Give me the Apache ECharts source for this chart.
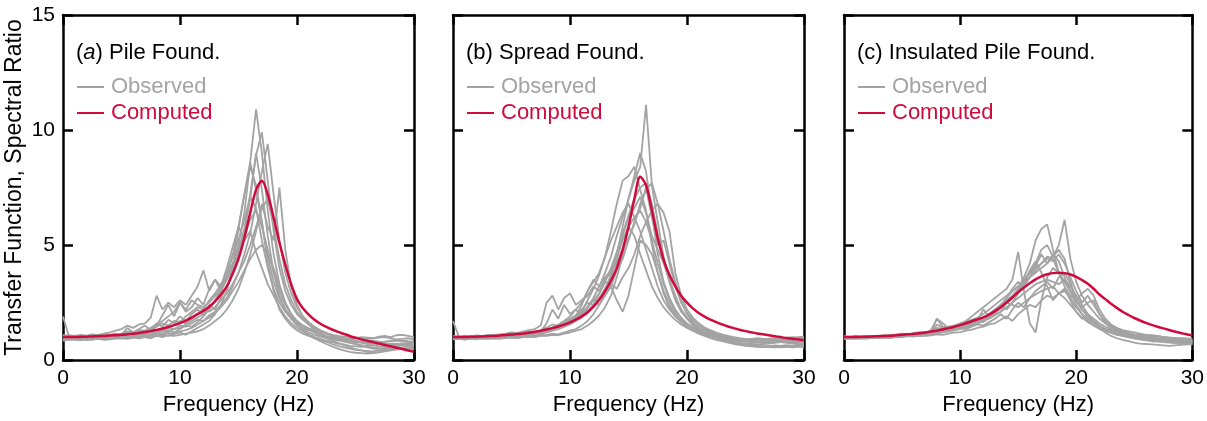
<!DOCTYPE html>
<html>
<head>
<meta charset="utf-8">
<title>Transfer function vs spectral ratio</title>
<script src="https://cdn.jsdelivr.net/npm/echarts@6/dist/echarts.min.js"></script>
<style>
    html, body { margin: 0; padding: 0; background: #fff; }
    #chart { width: 1207px; height: 421px; }
</style>
</head>
<body>
<div id="chart"></div>
<script type="text/javascript">
// frequency grid (Hz), 0.5 Hz step
var freq = [
    0,0.5,1,1.5,2,2.5,3,3.5,4,4.5,
    5,5.5,6,6.5,7,7.5,8,8.5,9,9.5,
    10,10.5,11,11.5,12,12.5,13,13.5,14,14.5,
    15,15.5,16,16.5,17,17.5,18,18.5,19,19.5,
    20,20.5,21,21.5,22,22.5,23,23.5,24,24.5,
    25,25.5,26,26.5,27,27.5,28,28.5,29,29.5,
    30
];

var panelTitles = ['(a) Pile Found.', '(b) Spread Found.', '(c) Insulated Pile Found.'];
var xTicks = [0, 10, 20, 30];
var yTicks = [0, 5, 10, 15];

// computed transfer functions
var compA = [
    1.00,1.00,1.00,1.01,1.02,1.03,1.04,1.05,1.07,1.08,
    1.10,1.12,1.15,1.18,1.22,1.26,1.31,1.37,1.44,1.52,
    1.61,1.72,1.85,2.00,2.14,2.32,2.55,2.85,3.20,3.75,
    4.40,5.30,6.40,7.40,7.80,7.20,6.20,5.10,4.15,3.30,
    2.65,2.25,1.98,1.75,1.58,1.44,1.33,1.23,1.14,1.05,
    0.97,0.90,0.84,0.78,0.72,0.66,0.60,0.54,0.48,0.42,
    0.36
];
var compB = [
    1.00,1.00,1.00,1.01,1.02,1.03,1.04,1.05,1.07,1.09,
    1.11,1.13,1.16,1.19,1.23,1.28,1.33,1.39,1.46,1.54,
    1.64,1.76,1.90,2.08,2.32,2.62,3.00,3.45,4.00,4.80,
    5.80,7.00,7.97,7.60,6.50,5.30,4.37,3.70,3.20,2.80,
    2.50,2.25,2.05,1.89,1.76,1.65,1.55,1.46,1.39,1.32,
    1.26,1.21,1.16,1.12,1.08,1.04,1.00,0.96,0.93,0.90,
    0.86
];
var compC = [
    1.00,1.00,1.00,1.01,1.02,1.03,1.04,1.05,1.06,1.08,
    1.10,1.12,1.14,1.17,1.20,1.24,1.28,1.33,1.39,1.45,
    1.52,1.60,1.69,1.77,1.86,1.98,2.13,2.30,2.50,2.72,
    2.95,3.15,3.34,3.51,3.64,3.73,3.78,3.80,3.78,3.72,
    3.62,3.48,3.32,3.10,2.85,2.65,2.45,2.27,2.10,1.96,
    1.83,1.72,1.62,1.53,1.45,1.38,1.31,1.24,1.18,1.12,
    1.07
];

// observed spectral ratios, panel (a)
var obsA = [
    [1.00,0.98,0.97,0.99,1.00,0.98,1.02,1.05,1.10,1.15,
     1.12,1.20,1.18,1.25,1.22,1.30,1.45,1.60,1.50,1.70,
     1.65,1.90,2.10,2.30,2.20,2.60,2.90,3.30,3.70,4.20,
     5.00,6.40,8.60,10.90,9.00,6.50,4.60,3.30,2.50,2.00,
     1.70,1.50,1.35,1.20,1.10,1.00,0.95,0.90,0.88,0.85,
     0.80,0.78,0.75,0.80,0.78,0.72,0.70,0.68,0.70,0.65,
     0.62],
    [1.90,1.05,0.95,0.92,0.90,0.93,0.95,0.92,0.98,1.00,
     1.05,1.02,1.10,1.08,1.05,1.10,1.20,1.15,1.25,1.35,
     1.40,1.55,1.70,1.85,2.00,2.30,2.60,3.00,3.50,4.10,
     4.80,5.70,7.20,8.90,9.90,7.80,5.60,4.00,3.00,2.40,
     2.00,1.75,1.55,1.40,1.25,1.15,1.05,1.00,0.95,0.92,
     0.95,1.00,0.98,0.95,1.02,1.05,1.00,1.08,1.10,1.05,
     1.00],
    [1.05,1.08,1.05,1.10,1.06,1.12,1.10,1.15,1.20,1.28,
     1.35,1.50,1.40,1.55,1.60,1.85,2.80,2.20,2.50,2.30,
     2.60,2.40,2.80,3.20,3.90,3.00,3.50,3.20,3.80,4.50,
     5.80,7.20,8.60,7.40,6.00,4.50,3.40,2.70,2.20,1.90,
     1.65,1.50,1.35,1.25,1.15,1.05,1.00,0.95,0.90,0.85,
     0.80,0.75,0.70,0.72,0.68,0.65,0.70,0.72,0.68,0.66,
     0.65],
    [0.92,0.90,0.88,0.90,0.87,0.90,0.92,0.88,0.90,0.93,
     0.95,0.92,0.98,0.95,1.00,1.02,1.05,1.00,1.08,1.05,
     1.10,1.15,1.20,1.25,1.35,1.50,1.70,1.90,2.20,2.60,
     3.10,3.80,4.60,5.60,6.80,5.80,5.20,7.50,4.80,3.20,
     2.40,1.90,1.55,1.30,1.10,0.95,0.85,0.75,0.65,0.55,
     0.48,0.42,0.35,0.32,0.35,0.40,0.45,0.50,0.55,0.60,
     0.62],
    [1.00,1.02,1.00,1.03,1.05,1.02,1.08,1.05,1.10,1.08,
     1.15,1.25,1.20,1.30,1.28,1.40,1.55,1.70,1.90,2.10,
     2.50,2.20,2.60,2.40,2.30,2.50,2.80,3.10,3.50,4.00,
     4.60,5.40,6.10,6.50,5.80,4.80,3.80,3.00,2.40,2.00,
     1.70,1.50,1.38,1.30,1.22,1.15,1.10,1.05,1.02,1.00,
     0.98,0.95,0.92,0.95,0.98,1.00,0.95,0.90,0.92,0.95,
     0.90],
    [0.95,0.92,0.93,0.90,0.92,0.95,0.93,0.96,0.95,0.98,
     1.00,0.98,1.02,1.05,1.00,0.95,1.05,1.10,1.05,1.15,
     1.20,1.10,1.25,1.40,1.55,1.70,2.00,2.40,3.00,4.00,
     5.70,7.20,8.40,7.60,6.00,4.20,3.00,2.20,1.80,1.50,
     1.30,1.15,1.05,0.95,0.85,0.80,0.70,0.62,0.55,0.50,
     0.45,0.42,0.40,0.38,0.42,0.45,0.50,0.55,0.52,0.50,
     0.48],
    [1.00,0.98,1.00,1.02,1.00,1.05,1.03,1.08,1.05,1.10,
     1.12,1.10,1.15,1.18,1.20,1.25,1.30,1.35,1.40,1.55,
     1.70,1.60,1.80,2.00,2.20,2.10,2.30,2.60,2.90,3.30,
     3.80,4.30,5.00,5.80,6.60,7.00,5.80,4.40,3.30,2.60,
     2.10,1.80,1.55,1.40,1.28,1.18,1.10,1.00,0.95,0.90,
     0.85,0.80,0.82,0.85,0.80,0.78,0.82,0.85,0.80,0.78,
     0.75],
    [1.02,1.00,0.98,0.96,0.98,1.00,0.97,1.00,1.02,1.00,
     1.05,1.08,1.05,1.10,1.15,1.12,1.20,1.25,1.30,1.20,
     1.35,1.50,1.45,1.65,1.90,2.20,2.60,3.20,4.00,4.90,
     5.80,5.20,5.60,4.70,4.00,3.30,2.80,2.30,1.90,1.60,
     1.40,1.25,1.12,1.00,0.92,0.85,0.78,0.72,0.68,0.62,
     0.60,0.58,0.62,0.65,0.60,0.58,0.62,0.65,0.68,0.70,
     0.72],
    [0.90,0.95,1.00,0.94,0.98,1.05,0.96,1.02,1.10,1.00,
     1.08,1.15,1.05,1.20,1.10,1.30,1.50,1.95,2.40,1.90,
     2.50,2.10,2.30,2.70,2.40,3.10,3.50,3.00,3.70,4.60,
     5.20,6.10,7.10,6.60,5.20,4.00,3.10,2.50,2.10,1.80,
     1.60,1.40,1.30,1.20,1.05,1.00,0.92,0.88,0.80,0.75,
     0.70,0.65,0.58,0.55,0.52,0.50,0.55,0.60,0.65,0.70,
     0.75],
    [1.00,1.04,0.98,1.06,1.00,1.08,1.02,1.10,1.05,1.12,
     1.08,1.15,1.12,1.20,1.25,1.18,1.30,1.28,1.40,1.35,
     1.50,1.45,1.60,1.75,1.70,1.95,2.10,2.40,2.70,3.20,
     3.80,4.60,5.50,6.80,8.20,9.40,7.20,5.20,3.80,2.90,
     2.30,1.90,1.65,1.45,1.30,1.18,1.05,0.95,0.85,0.78,
     0.70,0.62,0.55,0.50,0.48,0.52,0.58,0.62,0.66,0.70,
     0.72],
    [0.85,0.88,0.90,0.86,0.92,0.88,0.95,0.90,0.98,0.94,
     1.00,0.96,1.04,1.00,1.08,1.05,1.12,1.08,1.18,1.14,
     1.25,1.30,1.40,1.55,1.70,1.85,2.05,2.30,2.60,3.00,
     3.40,3.90,4.40,4.80,5.00,4.60,4.00,3.20,2.50,2.00,
     1.60,1.30,1.10,0.95,0.82,0.70,0.60,0.50,0.42,0.36,
     0.32,0.30,0.28,0.30,0.34,0.38,0.42,0.46,0.50,0.52,
     0.55],
    [1.10,1.00,1.05,0.96,1.02,0.94,1.08,1.00,1.06,1.15,
     1.10,1.40,1.20,1.35,1.50,1.30,1.60,1.45,1.75,1.60,
     1.90,1.70,2.00,2.20,1.95,2.40,2.20,2.70,3.20,3.80,
     4.60,5.60,7.00,9.00,7.40,5.40,3.80,2.80,2.20,1.80,
     1.50,1.35,1.20,1.10,1.02,0.96,0.90,0.86,0.82,0.78,
     0.75,0.80,0.85,0.82,0.78,0.80,0.84,0.88,0.85,0.82,
     0.80]
];

// observed spectral ratios, panel (b)
var obsB = [
    [1.00,0.98,0.96,0.95,0.97,0.96,0.98,1.00,0.98,1.02,
     1.05,1.02,1.08,1.10,1.05,1.12,1.20,1.28,1.35,1.45,
     1.60,1.80,2.00,2.30,2.70,3.20,3.80,4.50,5.40,6.20,
     7.00,7.80,8.40,11.10,7.60,6.00,4.50,3.40,2.60,2.10,
     1.80,1.55,1.40,1.28,1.18,1.10,1.02,0.95,0.90,0.85,
     0.82,0.80,0.78,0.75,0.78,0.80,0.78,0.75,0.72,0.70,
     0.68],
    [1.70,1.02,0.96,0.94,0.95,0.97,0.95,0.98,1.00,1.02,
     1.00,1.05,1.08,1.12,1.10,1.15,1.25,1.30,1.40,1.50,
     1.70,1.85,2.10,2.60,3.10,3.70,4.50,5.60,6.80,7.80,
     8.00,8.40,7.40,6.50,5.00,3.80,2.90,2.30,1.90,1.65,
     1.45,1.30,1.20,1.12,1.05,1.00,0.95,0.92,0.90,0.88,
     0.86,0.84,0.85,0.88,0.90,0.92,0.95,0.98,1.00,0.98,
     0.95],
    [1.02,1.00,1.02,1.03,1.05,1.04,1.08,1.10,1.12,1.15,
     1.20,1.18,1.25,1.30,1.35,1.50,2.50,2.80,2.20,2.70,
     2.90,2.40,2.60,2.80,3.20,3.00,3.50,3.80,4.20,4.80,
     5.30,5.90,6.80,7.40,7.70,6.80,6.40,5.60,3.80,2.80,
     2.20,1.85,1.60,1.42,1.30,1.20,1.12,1.05,1.00,0.95,
     0.92,0.90,0.88,0.85,0.82,0.80,0.78,0.82,0.85,0.80,
     0.78],
    [0.96,0.94,0.95,0.93,0.96,0.94,0.97,0.95,0.98,1.00,
     1.02,1.05,1.02,1.08,1.12,1.18,1.25,1.35,1.45,1.55,
     1.70,1.90,2.40,3.00,3.50,3.20,3.60,3.90,4.50,5.20,
     5.80,6.20,6.50,6.00,5.20,4.20,3.30,2.60,2.10,1.80,
     1.55,1.38,1.25,1.15,1.08,1.00,0.92,0.85,0.80,0.75,
     0.70,0.65,0.62,0.60,0.58,0.60,0.62,0.65,0.62,0.60,
     0.58],
    [1.00,1.02,1.00,0.98,1.00,1.02,1.00,1.03,1.05,1.08,
     1.10,1.12,1.15,1.20,1.22,1.28,1.35,1.42,1.50,1.60,
     1.75,1.90,2.10,2.30,2.60,2.90,3.40,4.00,4.70,5.50,
     6.30,7.00,7.50,7.70,6.80,5.50,4.30,3.40,2.70,2.20,
     1.85,1.60,1.42,1.30,1.20,1.12,1.05,1.00,0.96,0.92,
     0.90,0.88,0.86,0.88,0.92,0.95,0.92,0.90,0.88,0.92,
     0.90],
    [0.95,0.93,0.92,0.94,0.92,0.95,0.93,0.96,0.94,0.98,
     1.00,0.98,1.02,1.00,1.05,1.08,1.10,1.15,1.12,1.20,
     1.28,1.35,1.50,1.70,2.00,2.40,2.80,3.20,2.60,2.10,
     2.80,4.00,5.20,5.00,4.60,3.80,3.00,2.40,2.00,1.70,
     1.45,1.28,1.15,1.05,0.95,0.88,0.82,0.76,0.70,0.66,
     0.62,0.60,0.58,0.60,0.62,0.58,0.55,0.58,0.62,0.65,
     0.62],
    [1.00,0.98,1.00,1.01,0.99,1.00,1.02,1.00,1.04,1.02,
     1.06,1.05,1.10,1.08,1.15,1.20,1.30,1.40,1.55,1.70,
     1.90,2.20,2.50,3.00,3.40,3.80,4.50,5.20,5.80,6.40,
     6.80,6.20,5.60,4.80,4.00,3.20,2.60,2.20,1.90,1.70,
     1.55,1.42,1.32,1.22,1.15,1.08,1.02,0.98,0.95,0.92,
     0.90,0.92,0.95,0.92,0.88,0.85,0.88,0.92,0.95,1.00,
     1.02],
    [0.98,0.96,0.97,0.99,0.97,0.99,1.00,0.98,1.00,1.03,
     1.05,1.08,1.06,1.12,1.18,1.22,1.30,1.38,1.46,1.56,
     1.68,1.80,1.95,2.15,2.40,2.70,3.10,3.60,4.30,5.40,
     6.20,6.60,7.10,6.40,5.40,4.80,4.20,3.50,2.80,2.20,
     1.80,1.52,1.32,1.18,1.06,0.98,0.90,0.84,0.78,0.74,
     0.72,0.70,0.68,0.70,0.72,0.75,0.78,0.80,0.78,0.76,
     0.75],
    [0.92,0.96,0.90,0.98,0.93,1.00,0.95,1.02,0.97,1.05,
     1.00,1.10,1.05,1.15,1.10,1.25,1.60,2.20,1.80,2.40,
     2.00,2.20,1.90,2.30,2.60,2.40,2.90,3.30,3.10,3.60,
     4.00,4.60,5.40,6.00,6.50,6.80,5.60,4.40,3.40,2.60,
     2.00,1.65,1.40,1.22,1.10,1.00,0.92,0.85,0.78,0.72,
     0.68,0.64,0.60,0.58,0.60,0.64,0.62,0.58,0.55,0.58,
     0.60],
    [1.00,1.03,0.98,1.05,1.00,1.04,1.02,1.06,1.03,1.08,
     1.05,1.10,1.12,1.08,1.16,1.20,1.24,1.30,1.38,1.45,
     1.55,1.70,1.85,2.05,2.30,2.65,3.10,3.70,4.60,5.80,
     7.00,8.00,9.00,8.20,6.40,4.60,3.40,2.70,2.20,1.85,
     1.60,1.42,1.28,1.18,1.10,1.02,0.96,0.90,0.85,0.82,
     0.80,0.78,0.76,0.80,0.84,0.86,0.82,0.78,0.76,0.80,
     0.82],
    [0.90,0.92,0.89,0.93,0.90,0.94,0.92,0.95,0.93,0.96,
     0.98,0.96,1.00,1.02,1.00,1.06,1.05,1.10,1.08,1.15,
     1.20,1.28,1.35,1.50,1.70,1.95,2.30,2.80,3.60,4.50,
     5.80,5.40,4.60,3.90,3.20,2.70,2.30,2.00,1.75,1.55,
     1.40,1.28,1.18,1.10,1.02,0.95,0.88,0.82,0.76,0.70,
     0.65,0.62,0.60,0.58,0.56,0.55,0.58,0.60,0.62,0.64,
     0.65],
    [1.05,1.00,1.06,1.02,1.08,1.04,1.10,1.06,1.12,1.08,
     1.15,1.12,1.20,1.25,1.20,1.30,1.42,1.55,1.48,1.65,
     1.80,1.95,2.20,2.50,2.40,2.90,3.40,3.20,3.90,4.40,
     5.20,6.00,6.60,7.50,6.20,5.00,5.20,4.20,3.20,2.50,
     2.05,1.75,1.52,1.36,1.24,1.14,1.06,1.00,0.94,0.90,
     0.86,0.84,0.88,0.92,0.90,0.86,0.84,0.88,0.92,0.95,
     0.92]
];

// observed spectral ratios, panel (c)
var obsC = [
    [1.00,0.98,0.97,0.99,1.00,1.02,1.00,1.03,1.05,1.08,
     1.10,1.12,1.15,1.18,1.20,1.25,1.40,1.35,1.45,1.50,
     1.55,1.65,1.75,1.85,2.00,2.20,2.40,2.60,2.80,3.00,
     3.20,3.40,3.60,3.80,4.00,4.20,4.50,5.00,6.10,4.40,
     3.40,2.80,2.40,2.10,1.80,1.60,1.45,1.38,1.30,1.25,
     1.20,1.15,1.10,1.08,1.05,1.00,0.98,0.95,0.92,0.90,
     0.88],
    [0.95,0.93,0.94,0.96,0.95,0.97,0.96,0.98,1.00,1.02,
     1.04,1.06,1.10,1.08,1.12,1.15,1.22,1.30,1.28,1.35,
     1.42,1.50,1.60,1.70,1.80,2.00,2.20,2.40,2.60,2.80,
     3.10,3.60,4.20,5.20,5.70,5.90,4.80,3.80,3.40,3.00,
     2.60,2.20,1.90,1.65,1.45,1.30,1.20,1.12,1.05,1.00,
     0.95,0.92,0.88,0.85,0.88,0.90,0.86,0.82,0.80,0.78,
     0.76],
    [1.02,1.00,1.01,1.03,1.02,1.04,1.05,1.08,1.10,1.12,
     1.15,1.12,1.18,1.22,1.20,1.30,1.80,1.60,1.40,1.50,
     1.60,1.70,1.90,2.10,2.30,2.50,2.70,2.90,3.10,3.50,
     4.70,3.00,1.60,1.20,2.60,3.60,4.00,3.80,3.40,3.00,
     2.60,2.20,1.90,1.65,1.45,1.30,1.22,1.15,1.08,1.02,
     0.98,0.95,0.92,0.90,0.88,0.86,0.84,0.82,0.80,0.78,
     0.76],
    [0.98,0.96,0.97,0.95,0.97,0.99,0.98,1.00,1.02,1.00,
     1.04,1.06,1.05,1.10,1.12,1.15,1.20,1.25,1.30,1.35,
     1.42,1.50,1.58,1.70,1.85,2.00,2.20,2.40,2.70,3.00,
     3.20,3.50,3.80,4.00,4.20,4.40,4.30,4.60,4.20,3.60,
     3.00,2.50,2.80,2.40,2.00,1.70,1.50,1.35,1.25,1.15,
     1.08,1.02,0.98,0.95,0.92,0.90,0.88,0.85,0.82,0.80,
     0.78],
    [1.00,1.02,1.00,0.98,1.00,1.02,1.04,1.03,1.06,1.08,
     1.10,1.08,1.12,1.15,1.14,1.20,1.80,1.45,1.40,1.35,
     1.40,1.45,1.55,1.60,1.70,1.80,1.95,2.10,2.30,2.50,
     2.70,2.90,3.10,3.30,3.40,3.50,3.40,3.30,3.50,3.20,
     2.80,2.40,2.00,1.70,1.50,1.35,1.25,1.20,1.12,1.05,
     1.00,0.95,0.90,0.88,0.86,0.85,0.84,0.82,0.80,0.78,
     0.76],
    [0.96,0.95,0.94,0.96,0.95,0.97,0.96,0.98,0.97,1.00,
     1.02,1.04,1.06,1.05,1.08,1.10,1.15,1.20,1.25,1.30,
     1.35,1.42,1.50,1.60,1.75,1.90,2.10,2.40,2.20,2.50,
     2.90,3.40,3.90,4.30,3.80,3.20,2.60,2.90,3.10,2.60,
     2.10,1.80,2.00,1.70,1.40,1.20,1.05,0.95,0.88,0.82,
     0.76,0.72,0.70,0.68,0.66,0.64,0.62,0.64,0.66,0.68,
     0.70],
    [1.02,1.00,0.99,1.01,1.03,1.02,1.04,1.06,1.05,1.08,
     1.10,1.12,1.15,1.18,1.20,1.22,1.30,1.35,1.32,1.40,
     1.45,1.55,1.65,1.75,2.20,1.90,2.00,2.10,2.50,2.40,
     2.30,2.50,2.70,2.85,3.00,3.10,3.20,2.90,2.70,2.40,
     2.10,1.85,1.65,1.50,1.40,1.35,1.30,1.25,1.20,1.15,
     1.12,1.10,1.08,1.05,1.02,1.00,0.98,0.96,0.95,0.94,
     0.92],
    [0.98,1.00,1.02,1.00,0.99,1.01,1.00,1.02,1.04,1.05,
     1.08,1.10,1.12,1.15,1.18,1.20,1.25,1.30,1.38,1.42,
     1.50,1.58,1.66,1.75,1.85,2.00,2.15,2.35,2.55,2.80,
     3.00,3.30,3.60,3.90,4.20,4.50,4.40,3.80,3.20,2.80,
     2.60,2.90,3.10,2.80,2.20,1.80,1.55,1.40,1.28,1.18,
     1.10,1.05,1.00,0.98,0.95,0.92,0.90,0.88,0.86,0.85,
     0.84],
    [0.95,0.98,1.00,0.96,1.02,0.98,1.03,1.00,1.05,1.02,
     1.08,1.05,1.10,1.15,1.12,1.18,1.22,1.28,1.25,1.32,
     1.38,1.35,1.45,1.55,1.50,1.65,1.80,2.00,1.80,2.20,
     2.50,2.30,2.70,3.00,3.20,3.40,3.10,3.60,3.80,3.30,
     2.60,2.30,2.50,2.60,2.00,1.60,1.40,1.30,1.20,1.15,
     1.05,1.00,0.95,0.92,0.90,0.86,0.82,0.80,0.78,0.80,
     0.82],
    [1.00,0.97,1.02,0.99,1.01,1.03,1.00,1.04,1.02,1.06,
     1.05,1.09,1.12,1.10,1.15,1.20,1.25,1.22,1.30,1.38,
     1.45,1.52,1.62,1.70,1.65,1.85,2.10,2.30,2.70,3.10,
     3.40,3.20,3.60,4.10,4.60,4.20,4.60,4.30,3.60,3.00,
     2.40,2.00,1.80,1.60,1.45,1.35,1.28,1.20,1.14,1.10,
     1.06,1.02,0.98,0.94,0.92,0.90,0.88,0.86,0.85,0.84,
     0.83],
    [0.92,0.95,0.93,0.96,0.94,0.98,0.96,1.00,0.97,1.02,
     1.00,1.04,1.02,1.06,1.05,1.08,1.12,1.10,1.15,1.20,
     1.22,1.28,1.32,1.40,1.45,1.55,1.60,1.75,1.90,1.70,
     2.00,2.20,2.40,2.30,2.60,2.80,2.70,2.90,3.00,2.70,
     2.30,2.00,1.70,1.50,1.35,1.25,1.18,1.10,1.05,1.00,
     0.95,0.90,0.86,0.82,0.80,0.78,0.76,0.74,0.72,0.70,
     0.70],
    [1.04,1.00,1.06,1.02,1.05,1.01,1.06,1.03,1.08,1.05,
     1.10,1.08,1.14,1.12,1.20,1.18,1.55,1.40,1.32,1.45,
     1.52,1.48,1.62,1.58,1.75,1.90,2.05,2.25,2.50,2.70,
     3.00,3.40,3.80,4.20,4.80,5.00,4.50,4.80,4.40,3.40,
     2.60,2.20,2.00,1.80,1.60,1.45,1.35,1.25,1.18,1.12,
     1.08,1.04,1.00,1.02,1.05,1.00,0.96,0.94,0.92,0.90,
     0.88]
];

var GREY = '#a3a3a3';
var RED = '#d00a3c';
var FONT = '"Liberation Sans", Arial, Helvetica, sans-serif';

var panels = [
    {left: 63,  comp: compA, obs: obsA},
    {left: 453, comp: compB, obs: obsB},
    {left: 844, comp: compC, obs: obsC}
];

function pairs(arr) {
    return arr.map(function (v, i) { return [freq[i], v]; });
}

var option = {
    animation: false,
    textStyle: {fontFamily: FONT},
    title: [],
    legend: [],
    grid: [],
    xAxis: [],
    yAxis: [],
    series: []
};

panels.forEach(function (p, k) {
    option.grid.push({left: p.left, top: 15, width: 351, height: 350});

    option.title.push({
        text: k === 0 ? '({i|a}) Pile Found.' : panelTitles[k],
        left: p.left + 8,
        top: 37,
        textStyle: {
            fontFamily: FONT, fontSize: 22, fontWeight: 'normal', color: '#000',
            rich: {i: {fontFamily: FONT, fontSize: 22, fontStyle: 'italic', color: '#000'}}
        }
    });

    option.legend.push({
        orient: 'vertical',
        left: p.left + 9,
        top: 71,
        itemWidth: 27,
        itemHeight: 2,
        itemGap: 4,
        icon: 'rect',
        selectedMode: false,
        data: [
            {name: 'Observed', textStyle: {color: GREY}},
            {name: 'Computed', textStyle: {color: RED}}
        ],
        textStyle: {fontFamily: FONT, fontSize: 22, lineHeight: 22, padding: [0, 0, 0, 2]}
    });

    var frame = {show: true, onZero: false, lineStyle: {color: '#000', width: 2.5}};
    var tick = {show: true, inside: true, length: 10, lineStyle: {color: '#000', width: 2.5}};

    // bottom & top x axes
    option.xAxis.push({
        type: 'value', gridIndex: k, position: 'bottom',
        min: xTicks[0], max: xTicks[xTicks.length - 1], interval: 10,
        axisLine: frame, axisTick: tick, splitLine: {show: false},
        axisLabel: {fontFamily: FONT, fontSize: 21, color: '#000', margin: 8},
        name: 'Frequency (Hz)', nameLocation: 'middle', nameGap: 33,
        nameTextStyle: {fontFamily: FONT, fontSize: 22, color: '#000'}
    });
    option.xAxis.push({
        type: 'value', gridIndex: k, position: 'top',
        min: 0, max: 30, interval: 10,
        axisLine: frame, axisTick: tick, splitLine: {show: false},
        axisLabel: {show: false}
    });

    // left & right y axes
    var yLeft = {
        type: 'value', gridIndex: k, position: 'left',
        min: yTicks[0], max: yTicks[yTicks.length - 1], interval: 5,
        axisLine: frame, axisTick: tick, splitLine: {show: false},
        axisLabel: {show: k === 0, fontFamily: FONT, fontSize: 21, color: '#000', margin: 8}
    };
    if (k === 0) {
        yLeft.name = 'Transfer Function, Spectral Ratio';
        yLeft.nameLocation = 'middle';
        yLeft.nameGap = 37;
        yLeft.nameTextStyle = {fontFamily: FONT, fontSize: 23, color: '#000'};
    }
    option.yAxis.push(yLeft);
    option.yAxis.push({
        type: 'value', gridIndex: k, position: 'right',
        min: 0, max: 15, interval: 5,
        axisLine: frame, axisTick: tick, splitLine: {show: false},
        axisLabel: {show: false}
    });

    p.obs.forEach(function (arr) {
        option.series.push({
            name: 'Observed', type: 'line',
            xAxisIndex: 2 * k, yAxisIndex: 2 * k,
            data: pairs(arr), symbol: 'none', silent: true,
            lineStyle: {color: GREY, width: 1.8}, itemStyle: {color: GREY},
            z: 2
        });
    });
    option.series.push({
        name: 'Computed', type: 'line',
        xAxisIndex: 2 * k, yAxisIndex: 2 * k,
        data: pairs(p.comp), symbol: 'none', smooth: 0.3,
        lineStyle: {color: RED, width: 2.5}, itemStyle: {color: RED},
        z: 3
    });
});

var myChart = echarts.init(document.getElementById('chart'));
myChart.setOption(option);
</script>
</body>
</html>
